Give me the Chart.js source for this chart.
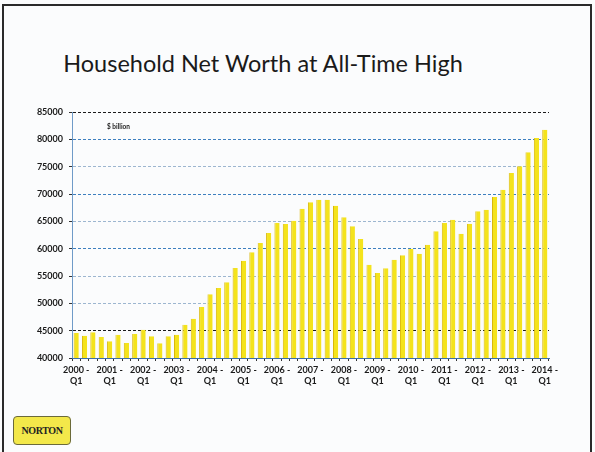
<!DOCTYPE html>
<html>
<head>
<meta charset="utf-8">
<script src="https://cdn.jsdelivr.net/npm/chart.js@4"></script>
<style>
  html, body { margin: 0; padding: 0; background: #fbfcfd; }
  #wrap { position: relative; width: 595px; height: 452px; overflow: hidden; }
  #frame {
    position: absolute; left: 2px; top: 4px; width: 590px; height: 460px;
    border: 2px solid #2a2a2a; box-sizing: border-box;
  }
  #title {
    position: absolute; left: 0; top: 49px; width: 526px; text-align: center;
    font: 23.5px Lato, sans-serif; color: #1a1a1a; white-space: nowrap;
  }
  #chart { position: absolute; left: 0; top: 0; }
  #logo {
    position: absolute; left: 13px; top: 416px; width: 56px; height: 27px;
    background: #f3e84a; border: 1px solid #6b6a3a; border-radius: 4px;
    font: bold 10px "Liberation Serif", serif; color: #222;
    text-align: center; line-height: 27px; letter-spacing: -0.4px;
  }
</style>
</head>
<body>
<div id="wrap">
  <div id="frame"></div>
  <div id="title">Household Net Worth at All-Time High</div>
  <canvas id="chart" width="595" height="452"></canvas>
  <div id="logo">NORTON</div>
</div>
<script>
// Trimestres 2000 Q1 .. 2014 Q1
const years = [2000, 2001, 2002, 2003, 2004, 2005, 2006, 2007, 2008, 2009, 2010, 2011, 2012, 2013, 2014];
const quarters = ['Q1', 'Q2', 'Q3', 'Q4'];

// Patrimonio neto de los hogares, $ billion
const netWorth = [
  44570, 44080, 44700, 43840,
  43050, 44270, 42740, 44390,
  45180, 43960, 42680, 43960,
  44270, 46100, 47200, 49330,
  51650, 52800, 53840, 56460,
  57800, 59330, 61040, 62870,
  64700, 64510, 65120, 67320,
  68480, 68960, 68960, 67870,
  65730, 64090, 61770, 57070,
  55550, 56400, 57990, 58780,
  60000, 59080, 60730, 63170,
  64700, 65300, 62740, 64570,
  66830, 67130, 69450, 70790,
  73840, 75060, 77620, 80240,
  81770
];

const yMin = 40000;
const yMax = 85000;
const yStep = 5000;

const labels = [];
years.forEach(function(y) {
  quarters.forEach(function(q) {
    if (labels.length < netWorth.length) labels.push(y + ' ' + q);
  });
});

// colores de las líneas de la rejilla
function gridColor(v) {
  if (v === 85000 || v === 45000) return '#1c1c1c';
  if (v === 80000 || v === 70000 || v === 60000) return '#3d7fbf';
  return '#9db6d0';
}

// texto "$ billion" dentro del área del gráfico
const unitLabel = {
  id: 'unitLabel',
  afterDraw: function(chart) {
    const ctx = chart.ctx;
    const a = chart.chartArea;
    ctx.save();
    ctx.font = 'bold 6.5px Lato';
    ctx.fillStyle = '#222';
    ctx.textBaseline = 'middle';
    ctx.fillText('$ billion', a.left + 35, a.top + 15);
    ctx.restore();
  }
};

const ctx = document.getElementById('chart').getContext('2d');
new Chart(ctx, {
  type: 'bar',
  data: {
    labels: labels,
    datasets: [{
      data: netWorth,
      backgroundColor: '#f4e31c',
      borderColor: '#d9b80a',
      borderWidth: { left: 1, right: 0, top: 0, bottom: 0 },
      barPercentage: 0.62,
      categoryPercentage: 1.0
    }]
  },
  options: {
    responsive: false,
    animation: false,
    layout: { padding: { left: 0, right: 46, top: 112, bottom: 52 } },
    plugins: {
      legend: { display: false },
      tooltip: { enabled: false }
    },
    scales: {
      y: {
        min: yMin,
        max: yMax,
        afterFit: function(s) { s.width = 72; },
        ticks: {
          stepSize: yStep,
          color: '#1a1a1a',
          font: { family: 'Lato', size: 9, weight: 'bold' },
          padding: 6,
          callback: function(v) { return String(v); }
        },
        grid: {
          color: function(c) { return gridColor(c.tick.value); },
          lineWidth: 1,
          tickLength: 3,
          tickColor: '#333'
        },
        border: { display: true, color: '#6f9bc8', width: 1, dash: [3, 2] }
      },
      x: {
        afterFit: function(s) { s.height = 42; },
        ticks: {
          autoSkip: false,
          maxRotation: 0,
          color: '#1a1a1a',
          font: { family: 'Lato', size: 9, weight: 'bold' },
          padding: 4,
          callback: function(val, i) {
            if (i % 4 !== 0) return '';
            return [years[i / 4] + ' -', 'Q1'];
          }
        },
        border: { display: true, color: '#3d6fa8', width: 1 },
        grid: {
          drawOnChartArea: false,
          tickLength: 3,
          color: '#333'
        }
      }
    }
  },
  plugins: [unitLabel]
});
</script>
</body>
</html>
